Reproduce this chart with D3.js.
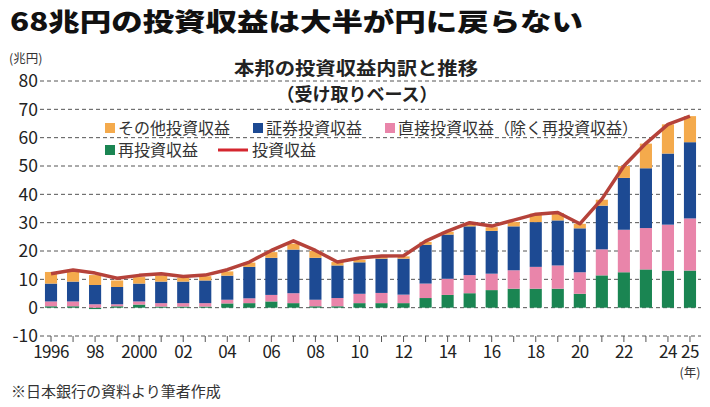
<!DOCTYPE html>
<html lang="ja">
<head>
<meta charset="UTF-8">
<title>投資収益</title>
<script src="https://d3js.org/d3.v7.min.js"></script>
<style>
    body { margin: 0; background: #fff; }
    svg { display: block; font-family: "Noto Sans CJK JP", "Noto Sans", sans-serif; }
</style>
</head>
<body>
<div id="chart"></div>
<script>
// データ(兆円) 読み取り値
var years = d3.range(1996, 2026);
var tickLabels = {1996: "1996", 1998: "98", 2000: "2000", 2002: "02", 2004: "04", 2006: "06",
    2008: "08", 2010: "10", 2012: "12", 2014: "14", 2016: "16", 2018: "18", 2020: "20",
    2022: "22", 2024: "24", 2025: "25"};

// 再投資収益
var reinvest = [0.5, 0.5, -0.5, 0.5, 1.1, 0.4, 0.4, 0.4, 1.5, 1.6,
    2.2, 1.6, 0.5, 0.5, 1.6, 1.6, 1.6, 3.4, 4.5, 5.1,
    6.2, 6.7, 6.7, 6.7, 4.9, 11.4, 12.5, 13.5, 13.1, 13.1];
// 直接投資収益(除く再投資収益)
var direct = [1.7, 1.7, 1.2, 0.7, 1.1, 1.2, 1.2, 1.2, 1.3, 1.7,
    2.3, 3.5, 2.3, 2.9, 3.3, 3.6, 3.0, 5.1, 5.7, 6.4,
    5.8, 6.5, 7.7, 8.2, 7.6, 9.2, 15.0, 14.6, 16.2, 18.4];
// 証券投資収益
var portfolio = [6.3, 7.0, 6.8, 6.1, 6.3, 7.6, 7.6, 8.0, 8.5, 11.1,
    13.1, 15.4, 14.8, 11.5, 11.1, 12.1, 12.7, 13.7, 15.6, 17.2,
    15.1, 15.5, 15.8, 15.9, 15.5, 15.4, 18.3, 21.1, 25.1, 26.9];
// その他投資収益
var other = [4.1, 3.6, 3.5, 2.3, 2.3, 2.2, 1.4, 1.5, 1.5, 1.5,
    2.0, 2.1, 2.4, 1.2, 0.9, 0.6, 0.8, 1.0, 1.0, 0.9,
    1.3, 1.5, 3.0, 2.6, 1.6, 2.1, 4.2, 8.7, 10.3, 9.2];
// 投資収益(合計)
var total = [12.0, 13.3, 12.2, 10.4, 11.4, 12.0, 11.0, 11.5, 13.4, 16.1,
    20.2, 23.6, 20.2, 16.1, 17.5, 18.2, 18.3, 23.5, 27.0, 30.0,
    28.8, 30.9, 33.0, 33.6, 29.6, 38.3, 50.0, 58.0, 64.7, 67.6];

var keys = ["reinvest", "direct", "portfolio", "other"];
var colors = {reinvest: "#1a8552", direct: "#e985aa", portfolio: "#1d4a93", other: "#f4aa4c"};

var W = 710, H = 407;
var svg = d3.select("#chart").append("svg").attr("width", W).attr("height", H);

var rows = years.map(function(y, i) {
    return {year: y, reinvest: reinvest[i], direct: direct[i], portfolio: portfolio[i], other: other[i], total: total[i]};
});

var x = d3.scaleBand().domain(years).range([40, 701]).paddingInner(0.45).paddingOuter(0.225);
var y = d3.scaleLinear().domain([-10, 80]).range([336, 81]);

// 見出し
svg.append("text")
    .attr("x", 10).attr("y", 31)
    .attr("font-size", 25).attr("font-weight", 900)
    .attr("textLength", 573).attr("lengthAdjust", "spacingAndGlyphs")
    .attr("fill", "#111")
    .text("68兆円の投資収益は大半が円に戻らない");

svg.append("text")
    .attr("x", 234).attr("y", 74.5)
    .attr("font-size", 18).attr("font-weight", 700).attr("fill", "#222")
    .attr("textLength", 244).attr("lengthAdjust", "spacingAndGlyphs")
    .text("本邦の投資収益内訳と推移");
svg.append("text")
    .attr("x", 357).attr("y", 101).attr("text-anchor", "middle")
    .attr("font-size", 18).attr("font-weight", 700).attr("fill", "#222")
    .text("（受け取りベース）");

svg.append("text")
    .attr("x", 9).attr("y", 63)
    .attr("font-size", 12.5).attr("fill", "#333")
    .text("(兆円)");

// 目盛り線
var yTicks = d3.range(-10, 81, 10);
svg.append("g").selectAll("line")
    .data(yTicks)
    .enter()
    .append("line")
    .attr("x1", 40).attr("x2", 701)
    .attr("y1", function(d) { return y(d); })
    .attr("y2", function(d) { return y(d); })
    .attr("stroke", "#555")
    .attr("stroke-width", 1)
    .attr("stroke-dasharray", "4,3");

svg.append("g").selectAll("text")
    .data(yTicks)
    .enter()
    .append("text")
    .attr("x", 38)
    .attr("y", function(d) { return y(d); })
    .attr("dy", "0.36em")
    .attr("text-anchor", "end")
    .attr("font-size", 17.5).attr("fill", "#222")
    .text(function(d) { return d; });

// 横軸
var xAxis = svg.append("g")
    .attr("transform", "translate(0," + y(-10) + ")")
    .call(d3.axisBottom(x)
        .tickSize(6)
        .tickPadding(4)
        .tickFormat(function(d) { return tickLabels[d] || ""; }));
xAxis.select(".domain").remove();
xAxis.selectAll(".tick line").attr("stroke", "#555");
xAxis.selectAll("text")
    .attr("font-size", 17).attr("fill", "#222")
    .attr("letter-spacing", "-0.5px")
    .attr("font-family", "\"Noto Sans CJK JP\", sans-serif");

svg.append("text")
    .attr("x", 690).attr("y", 377).attr("text-anchor", "middle")
    .attr("font-size", 12.5).attr("fill", "#333")
    .text("(年)");

// 積み上げ棒
var stack = d3.stack().keys(keys).offset(d3.stackOffsetDiverging);
var series = stack(rows);

svg.append("g").selectAll("g")
    .data(series)
    .enter()
    .append("g")
    .attr("fill", function(d) { return colors[d.key]; })
    .selectAll("rect")
    .data(function(d) { return d; })
    .enter()
    .append("rect")
    .attr("x", function(d) { return x(d.data.year); })
    .attr("width", x.bandwidth())
    .attr("y", function(d) { return y(Math.max(d[0], d[1])); })
    .attr("height", function(d) { return Math.abs(y(d[0]) - y(d[1])); });

// 投資収益ライン
var line = d3.line()
    .x(function(d) { return x(d.year) + x.bandwidth() / 2; })
    .y(function(d) { return y(d.total); });

svg.append("path")
    .datum(rows)
    .attr("d", line)
    .attr("fill", "none")
    .attr("stroke", "#b5423a")
    .attr("stroke-width", 3.5)
    .attr("stroke-linejoin", "round");

// 凡例
var legendItems = [
    {label: "その他投資収益", key: "other", x: 105, y: 128},
    {label: "証券投資収益", key: "portfolio", x: 253, y: 128},
    {label: "直接投資収益（除く再投資収益）", key: "direct", x: 385, y: 128},
    {label: "再投資収益", key: "reinvest", x: 105, y: 150}
];
var legend = svg.append("g");
legend.selectAll("rect")
    .data(legendItems)
    .enter()
    .append("rect")
    .attr("x", function(d) { return d.x; })
    .attr("y", function(d) { return d.y - 5; })
    .attr("width", 10).attr("height", 10)
    .attr("fill", function(d) { return colors[d.key]; });
legend.selectAll("text")
    .data(legendItems)
    .enter()
    .append("text")
    .attr("x", function(d) { return d.x + 13; })
    .attr("y", function(d) { return d.y; })
    .attr("dy", "0.36em")
    .attr("font-size", 16).attr("fill", "#333")
    .text(function(d) { return d.label; });

legend.append("line")
    .attr("x1", 218).attr("x2", 248)
    .attr("y1", 150).attr("y2", 150)
    .attr("stroke", "#d4262f").attr("stroke-width", 3);
legend.append("text")
    .attr("x", 252).attr("y", 150).attr("dy", "0.36em")
    .attr("font-size", 16).attr("fill", "#333")
    .text("投資収益");

// 出所
svg.append("text")
    .attr("x", 11).attr("y", 397)
    .attr("font-size", 15).attr("fill", "#333")
    .text("※日本銀行の資料より筆者作成");
</script>
</body>
</html>
